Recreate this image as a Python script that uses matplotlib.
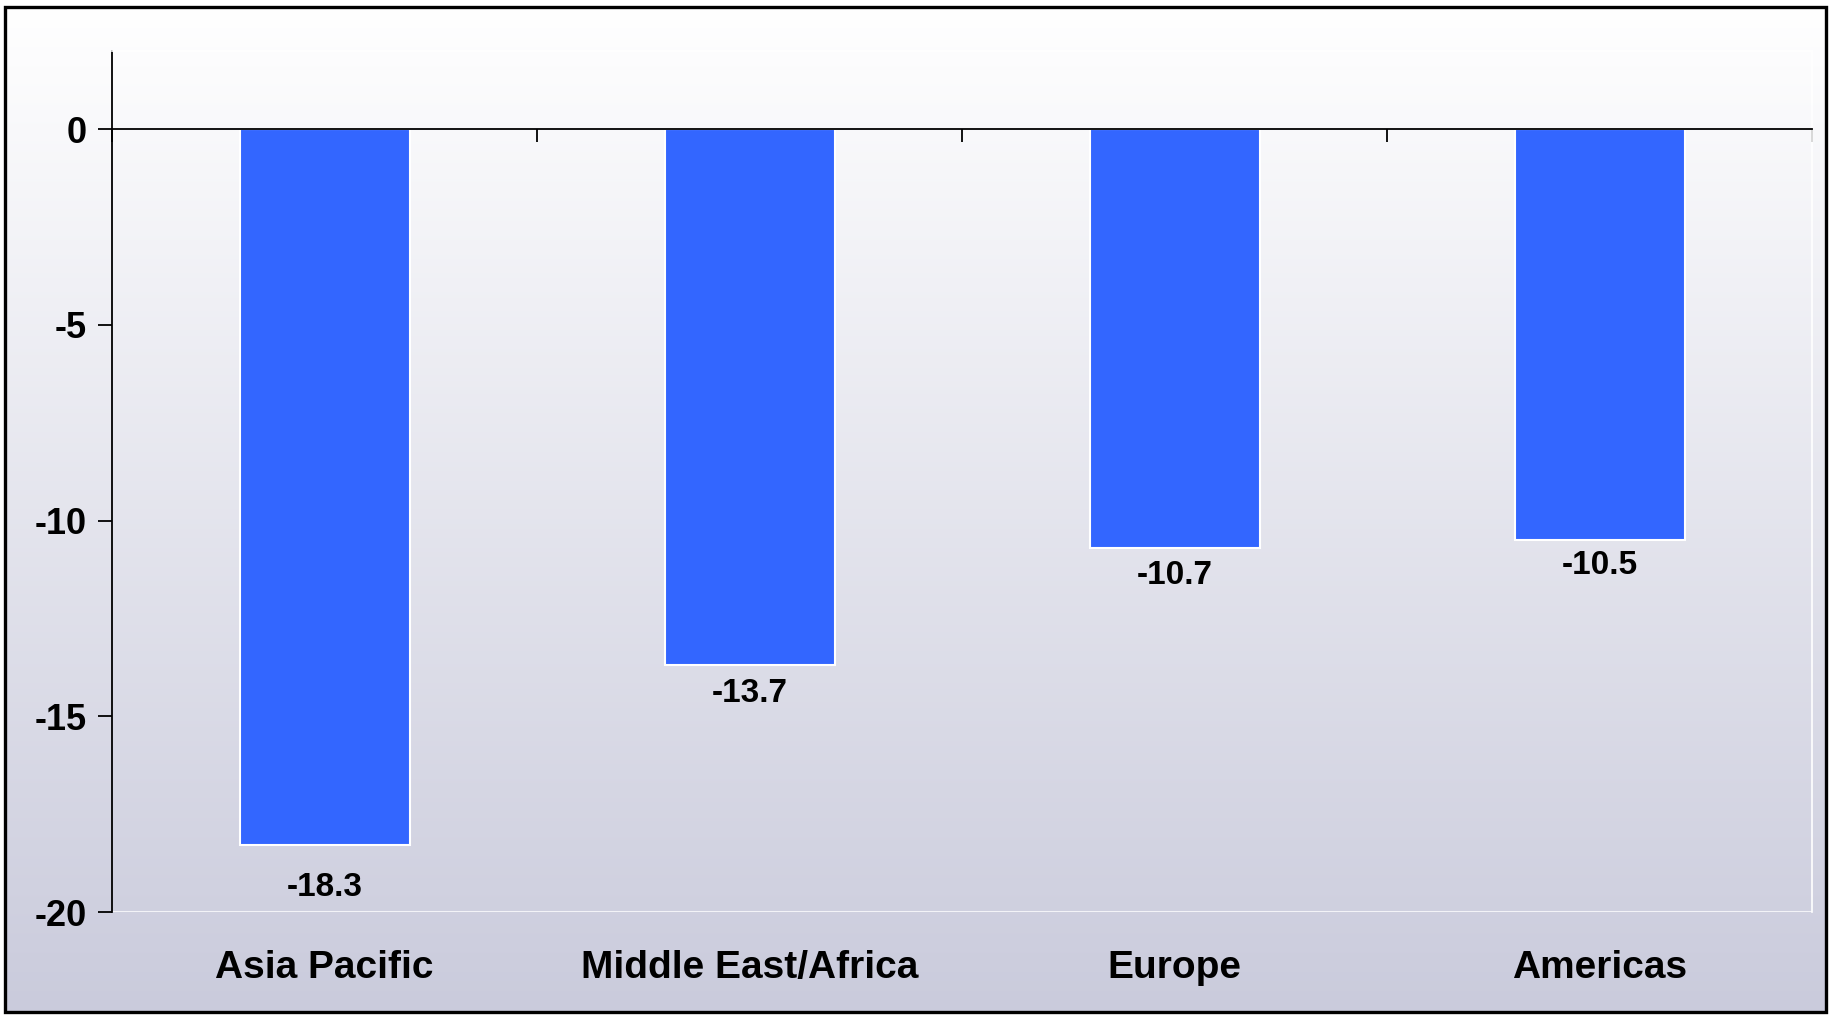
import numpy as np
import matplotlib
matplotlib.use("Agg")
import matplotlib.pyplot as plt
from matplotlib.patches import Rectangle

plt.rcParams['font.family'] = ['Liberation Sans', 'DejaVu Sans']

# data
regions = ['Asia Pacific', 'Middle East/Africa', 'Europe', 'Americas']
change = [-18.3, -13.7, -10.7, -10.5]
yticks = [0, -5, -10, -15, -20]

# label offsets below bar ends (pixels)
label_pad = [42, 28, 27, 25]

W, H = 1829, 1015
fig = plt.figure(figsize=(W / 100, H / 100), dpi=100)

# gradient background inside black frame
bg = fig.add_axes([0, 0, 1, 1], zorder=0)
bg.set_xlim(0, W)
bg.set_ylim(H, 0)
bg.axis('off')
top_c = np.array([255, 255, 255]) / 255
bot_c = np.array([202, 203, 220]) / 255
t = np.linspace(0, 1, 256)[:, None]
grad = top_c[None, :] * (1 - t) + bot_c[None, :] * t
grad = np.repeat(grad[:, None, :], 2, axis=1)
bg.imshow(grad, extent=[5, 1826, 1012, 7], aspect='auto', interpolation='bilinear')
bg.add_patch(Rectangle((5, 7), 1821, 1005, fill=False, edgecolor='black', lw=2.4))

# main axes
ax = fig.add_axes([112 / W, 1 - 912 / H, (1812 - 112) / W, (912 - 51) / H], zorder=1)
ax.patch.set_alpha(0)
x = np.arange(len(regions))
bars = ax.bar(x, change, width=0.4, color='#3366FF', edgecolor='white', linewidth=1.5, zorder=2)

ax.set_xlim(-0.5, len(regions) - 0.5)
ax.set_ylim(-20, 2)

for s in ['top', 'right']:
    ax.spines[s].set_color('white')
    ax.spines[s].set_linewidth(1.2)
ax.spines['left'].set_color('black')
ax.spines['left'].set_linewidth(1.3)
ax.spines['bottom'].set_position(('data', 0))
ax.spines['bottom'].set_color('black')
ax.spines['bottom'].set_linewidth(1.3)
ax.spines['bottom'].set_zorder(3)
ax.axhline(-20, color='white', lw=1.8, zorder=1)

ax.set_yticks(yticks)
ax.set_yticklabels([str(v) for v in yticks], fontsize=26, fontweight='bold')
ax.tick_params(axis='y', direction='out', length=10, width=1.3, pad=8)

ax.set_xticks(np.arange(len(regions) + 1) - 0.5)
ax.set_xticklabels([])
ax.tick_params(axis='x', direction='out', length=9, width=1.3)

for i, (name, v) in enumerate(zip(regions, change)):
    ax.text(i, -0.065, name, transform=ax.get_xaxis_transform(), ha='center', va='center',
            fontsize=28, fontweight='bold')
    ax.annotate(f'{v:.1f}', (i, v), xytext=(0, -label_pad[i] * 0.72), textcoords='offset points',
                ha='center', va='center', fontsize=24, fontweight='bold')

fig.savefig('out.png', dpi=100)
